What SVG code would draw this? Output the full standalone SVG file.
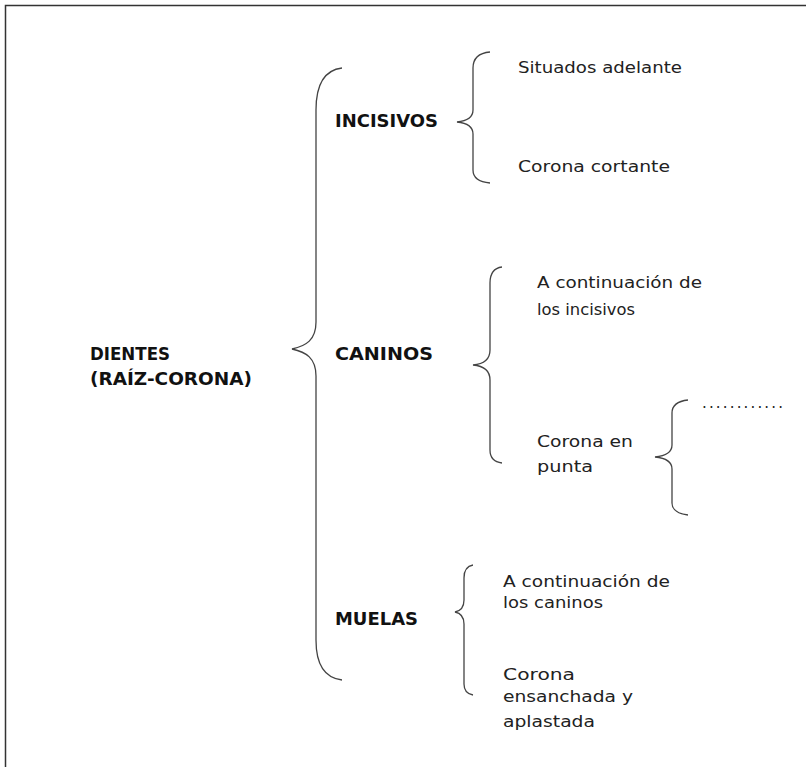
<svg xmlns="http://www.w3.org/2000/svg" width="806" height="767" viewBox="0 0 806 767">
<style>
.t{font-family:"DejaVu Sans","Liberation Sans",sans-serif;font-size:15px;fill:#222}
.b{font-family:"DejaVu Sans","Liberation Sans",sans-serif;font-size:17.5px;font-weight:bold;fill:#111}
.br{fill:none;stroke:#444;stroke-width:1.3}
</style>
<rect x="0" y="0" width="806" height="767" fill="#fff"/>
<path d="M5.5,767 L5.5,5.5 L806,5.5" fill="none" stroke="#333" stroke-width="1.5"/>
<g id="connectors">
<path class="br" d="M342,68 C325,70 316,84 316,110 L316,322 C316,340 306,346 292,349 C306,352 316,358 316,376 L316,640 C316,664 325,678 342,680"/>
<path class="br" d="M490,52 C479,53 473,58 473,68 L473,110 C473,117 467,121 457,122 C467,123 473,127 473,134 L473,170 C473,178 479,182 490,183"/>
<path class="br" d="M502,267 C494,268 490,273 490,283 L490,350 C490,359 484,364 473,365 C484,366 490,371 490,380 L490,450 C490,458 494,462 502,463"/>
<path class="br" d="M688,400 C679,401 672,405 672,413 L672,445 C672,452 665,456 655,457 C665,458 672,462 672,469 L672,503 C672,510 679,514 688,515"/>
<path class="br" d="M473,565 C467,566 464,570 464,578 L464,600 C464,607 460,611 455,612 C460,613 464,617 464,624 L464,684 C464,691 467,694 473,695"/>
</g>
<g id="dientes"><text class="b" x="90" y="360" textLength="80" lengthAdjust="spacingAndGlyphs">DIENTES</text><text class="b" x="90" y="385" textLength="162" lengthAdjust="spacingAndGlyphs">(RAÍZ-CORONA)</text></g>
<g id="incisivos"><text class="b" x="335" y="127" textLength="103" lengthAdjust="spacingAndGlyphs">INCISIVOS</text></g>
<g id="caninos"><text class="b" x="335" y="360" textLength="98" lengthAdjust="spacingAndGlyphs">CANINOS</text></g>
<g id="muelas"><text class="b" x="335" y="625" textLength="83" lengthAdjust="spacingAndGlyphs">MUELAS</text></g>
<g id="inc1"><text class="t" x="518" y="73" textLength="164" lengthAdjust="spacingAndGlyphs">Situados adelante</text></g>
<g id="inc2"><text class="t" x="518" y="172" textLength="152" lengthAdjust="spacingAndGlyphs">Corona cortante</text></g>
<g id="can1"><text class="t" x="537" y="288" textLength="165" lengthAdjust="spacingAndGlyphs">A continuación de</text><text class="t" x="537" y="315" textLength="98" lengthAdjust="spacingAndGlyphs">los incisivos</text></g>
<g id="can2"><text class="t" x="537" y="447" textLength="96" lengthAdjust="spacingAndGlyphs">Corona en</text><text class="t" x="537" y="472" textLength="56" lengthAdjust="spacingAndGlyphs">punta</text></g>
<g id="dots"><text class="t" x="702" y="408" textLength="81" lengthAdjust="spacing">............</text></g>
<g id="mue1"><text class="t" x="503" y="587" textLength="167" lengthAdjust="spacingAndGlyphs">A continuación de</text><text class="t" x="503" y="608" textLength="100" lengthAdjust="spacingAndGlyphs">los caninos</text></g>
<g id="mue2"><text class="t" x="503" y="680" textLength="72" lengthAdjust="spacingAndGlyphs">Corona</text><text class="t" x="503" y="702" textLength="130" lengthAdjust="spacingAndGlyphs">ensanchada y</text><text class="t" x="503" y="727" textLength="92" lengthAdjust="spacingAndGlyphs">aplastada</text></g>
</svg>
